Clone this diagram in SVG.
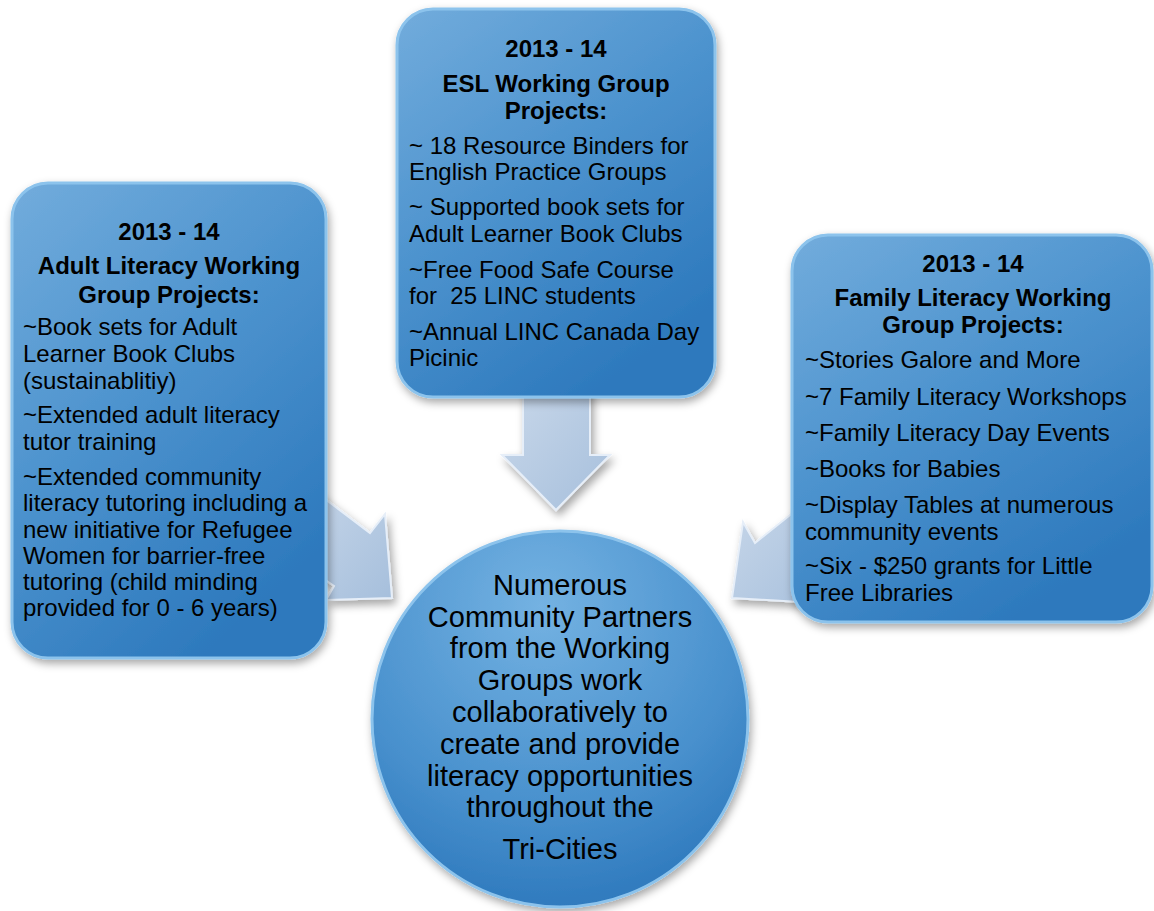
<svg xmlns="http://www.w3.org/2000/svg" width="1154" height="911" viewBox="0 0 1154 911">
<defs>
<linearGradient id="boxg" x1="0" y1="0" x2="0.6" y2="1">
<stop offset="0" stop-color="#72acdc"/>
<stop offset="0.5" stop-color="#4d93ce"/>
<stop offset="1" stop-color="#2d79bd"/>
</linearGradient>
<radialGradient id="circg" cx="0.45" cy="0.2" r="0.9">
<stop offset="0" stop-color="#74b2e2"/>
<stop offset="0.6" stop-color="#4890cd"/>
<stop offset="1" stop-color="#2672b8"/>
</radialGradient>
<linearGradient id="arrg" x1="0" y1="0" x2="1" y2="1">
<stop offset="0" stop-color="#c9d8ea"/>
<stop offset="1" stop-color="#a6bfdc"/>
</linearGradient>
<filter id="sh" x="-10%" y="-10%" width="125%" height="125%">
<feDropShadow dx="2" dy="4" stdDeviation="4" flood-color="#000" flood-opacity="0.35"/>
</filter>
<filter id="ash" x="-20%" y="-20%" width="150%" height="150%">
<feDropShadow dx="3" dy="5" stdDeviation="4" flood-color="#000" flood-opacity="0.35"/>
</filter>
</defs>
<style>
.box{fill:url(#boxg);stroke:#8cc3ec;stroke-width:3;filter:url(#sh)}
.arr{fill:url(#arrg);stroke:#e6eef8;stroke-width:2;stroke-linejoin:miter;filter:url(#ash)}
text{font-family:"Liberation Sans",Arial,Helvetica,sans-serif;fill:#000}
.h{font-weight:bold;font-size:24px;text-anchor:middle}
.b{font-size:24px}
.c{font-size:29px;text-anchor:middle}
</style>
<rect width="1154" height="911" fill="#ffffff"/>
<g id="connectors">
<polygon class="arr" points="523,385 590,385 590,455 610,455 556,510 502,455 523,455"/>
<polygon class="arr" points="300,480 370,533 385,514 392,598 326,600 334,586 290,555"/>
<polygon class="arr" points="830,483 755,543 743,522 732,598 800,602 800,580 840,555"/>
</g>
<g id="node-adult">
<rect class="box" x="12" y="183" width="314" height="475" rx="36"/>
<text class="h" x="169" y="240">2013 - 14</text>
<text class="h" x="169" y="274">Adult Literacy Working</text>
<text class="h" x="169" y="303">Group Projects:</text>
<text class="b" x="23" y="335">~Book sets for Adult</text>
<text class="b" x="23" y="362">Learner Book Clubs</text>
<text class="b" x="23" y="389">(sustainablitiy)</text>
<text class="b" x="23" y="423">~Extended adult literacy</text>
<text class="b" x="23" y="450">tutor training</text>
<text class="b" x="23" y="485">~Extended community</text>
<text class="b" x="23" y="511">literacy tutoring including a</text>
<text class="b" x="23" y="538">new initiative for Refugee</text>
<text class="b" x="23" y="564">Women for barrier-free</text>
<text class="b" x="23" y="590">tutoring (child minding</text>
<text class="b" x="23" y="616">provided for 0 - 6 years)</text>
</g>
<g id="node-esl">
<rect class="box" x="397" y="9" width="318" height="388" rx="36"/>
<text class="h" x="556" y="57">2013 - 14</text>
<text class="h" x="556" y="92">ESL Working Group</text>
<text class="h" x="556" y="119">Projects:</text>
<text class="b" x="409" y="154">~ 18 Resource Binders for</text>
<text class="b" x="409" y="180">English Practice Groups</text>
<text class="b" x="409" y="215">~ Supported book sets for</text>
<text class="b" x="409" y="242">Adult Learner Book Clubs</text>
<text class="b" x="409" y="278">~Free Food Safe Course</text>
<text class="b" x="409" y="304" xml:space="preserve">for  25 LINC students</text>
<text class="b" x="409" y="340">~Annual LINC Canada Day</text>
<text class="b" x="409" y="366">Picinic</text>
</g>
<g id="node-family">
<rect class="box" x="792" y="235" width="360" height="387" rx="36"/>
<text class="h" x="973" y="272">2013 - 14</text>
<text class="h" x="973" y="306">Family Literacy Working</text>
<text class="h" x="973" y="333">Group Projects:</text>
<text class="b" x="805" y="368">~Stories Galore and More</text>
<text class="b" x="805" y="405">~7 Family Literacy Workshops</text>
<text class="b" x="805" y="441">~Family Literacy Day Events</text>
<text class="b" x="805" y="477">~Books for Babies</text>
<text class="b" x="805" y="513">~Display Tables at numerous</text>
<text class="b" x="805" y="540">community events</text>
<text class="b" x="805" y="574">~Six - $250 grants for Little</text>
<text class="b" x="805" y="601">Free Libraries</text>
</g>
<g id="node-center">
<circle cx="560" cy="719" r="188" fill="url(#circg)" stroke="#8cc3ec" stroke-width="3" filter="url(#sh)"/>
<text class="c" x="560" y="595">Numerous</text>
<text class="c" x="560" y="627">Community Partners</text>
<text class="c" x="560" y="658">from the Working</text>
<text class="c" x="560" y="690">Groups work</text>
<text class="c" x="560" y="722">collaboratively to</text>
<text class="c" x="560" y="754">create and provide</text>
<text class="c" x="560" y="786">literacy opportunities</text>
<text class="c" x="560" y="817">throughout the</text>
<text class="c" x="560" y="859">Tri-Cities</text>
</g>
</svg>
